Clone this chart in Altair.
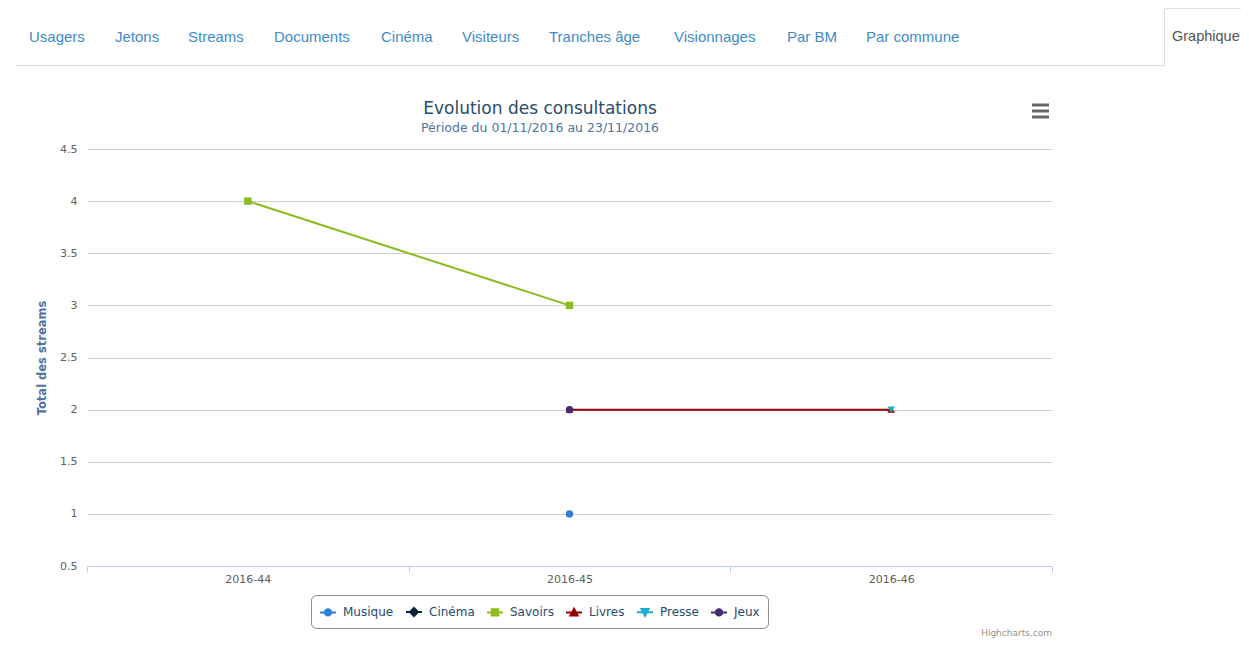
import altair as alt
import pandas as pd

# ---------------- data ----------------
weeks = ["2016-44", "2016-45", "2016-46"]
series = ["Musique", "Cinéma", "Savoirs", "Livres", "Presse", "Jeux"]
colors = ["#2f7ed8", "#0d233a", "#8bbc21", "#910000", "#1aadce", "#492970"]
marker_shapes = ["circle", "diamond", "square", "triangle-up", "triangle-down", "circle"]

musique = [None, 1, None]
cinema = [None, 2, None]
savoirs = [4, 3, None]
livres = [None, 2, 2]
presse = [None, None, 2]
jeux = [None, 2, None]

y_ticks = [0.5, 1, 1.5, 2, 2.5, 3, 3.5, 4, 4.5]
nav_labels = ["Usagers", "Jetons", "Streams", "Documents", "Cinéma", "Visiteurs",
              "Tranches âge", "Visionnages", "Par BM", "Par commune"]
active_tab = "Graphique"
title_text = "Evolution des consultations"
subtitle_text = "Période du 01/11/2016 au 23/11/2016"
y_title = "Total des streams"
credit_text = "Highcharts.com"

values = [musique, cinema, savoirs, livres, presse, jeux]
rows = []
for s, vals in zip(series, values):
    for w, v in zip(weeks, vals):
        if v is not None:
            rows.append({"series": s, "week": w, "value": v})
df = pd.DataFrame(rows)
legend_df = pd.DataFrame({"series": series, "week": [weeks[1]] * len(series),
                          "value": [2] * len(series)})

# legend symbols: a short line with the marker on it
legend_paths = [
    "M-1,0L1,0M0.4,0A0.4,0.4,0,1,1,-0.4,0A0.4,0.4,0,1,1,0.4,0Z",
    "M-1,0L1,0M0,-0.5L0.5,0L0,0.5L-0.5,0Z",
    "M-1,0L1,0M-0.4,-0.4L0.4,-0.4L0.4,0.4L-0.4,0.4Z",
    "M-1,0L1,0M0,-0.45L0.45,0.4L-0.45,0.4Z",
    "M-1,0L1,0M0,0.45L0.45,-0.4L-0.45,-0.4Z",
    "M-1,0L1,0M0.4,0A0.4,0.4,0,1,1,-0.4,0A0.4,0.4,0,1,1,0.4,0Z",
]

FONT = "DejaVu Sans"
W, H = 965, 417

x_enc = alt.X("week:N", sort=weeks, bandPosition=0.5,
              scale=alt.Scale(type="band", domain=weeks, paddingInner=0, paddingOuter=0),
              axis=alt.Axis(title=None, tickBand="extent", grid=False, labelAngle=0,
                            domainColor="#C0D0E0", tickColor="#C0D0E0", tickSize=6,
                            labelPadding=1, labelColor="#606060", labelFont=FONT,
                            labelFontSize=11))
y_enc = alt.Y("value:Q", scale=alt.Scale(domain=[0.5, 4.5], nice=False, zero=False),
              axis=alt.Axis(values=y_ticks, format="~g", title=y_title, grid=True,
                            gridColor="#d0d0d0", domain=False, ticks=False,
                            labelPadding=10, labelColor="#606060", labelFont=FONT,
                            labelFontSize=11, titleFont=FONT, titleFontSize=11.5,
                            titleFontWeight="bold", titleColor="#4d759e",
                            titlePadding=12))

leg = alt.Legend(title=None, orient="none", legendX=224, legendY=446,
                 direction="horizontal", strokeColor="#909090", cornerRadius=5,
                 padding=8, fillColor="white", labelFont=FONT, labelFontSize=12,
                 labelColor="#274b6d", symbolSize=256, symbolStrokeWidth=2,
                 symbolOpacity=1, columnPadding=8, labelOffset=6)

color_enc = alt.Color("series:N", scale=alt.Scale(domain=series, range=colors), legend=leg)

lines = alt.Chart(df).mark_line(strokeWidth=2).encode(
    x=x_enc, y=y_enc, color=color_enc, detail="series:N")

marker_layers = []
for s, shp in zip(series, marker_shapes):
    marker_layers.append(
        alt.Chart(df[df["series"] == s]).mark_point(
            shape=shp, filled=True, size=55, opacity=1).encode(
            x=x_enc, y=y_enc, color=color_enc))

legend_layer = alt.Chart(legend_df).mark_point(filled=True, opacity=0).encode(
    x=x_enc, y=y_enc, color=color_enc,
    stroke=alt.Stroke("series:N", scale=alt.Scale(domain=series, range=colors), legend=leg),
    shape=alt.Shape("series:N", scale=alt.Scale(domain=series, range=legend_paths), legend=leg))

dummy = pd.DataFrame({"a": [0]})


def text_at(text, x, y, size, color, font=FONT, align="left", weight="normal"):
    return alt.Chart(dummy).mark_text(
        text=text, align=align, baseline="middle", font=font, fontSize=size,
        color=color, fontWeight=weight).encode(x=alt.value(x), y=alt.value(y))


def rule_at(x, x2, y, y2, color, width=1):
    return alt.Chart(dummy).mark_rule(color=color, strokeWidth=width).encode(
        x=alt.value(x), x2=alt.value(x2), y=alt.value(y), y2=alt.value(y2))


OX, OY = 87, 149  # page position of plot origin
nav_x = [29, 115, 188, 274, 381, 462, 549, 674, 787, 866]
deco = []
for lab, px in zip(nav_labels, nav_x):
    deco.append(text_at(lab, px - OX, 37 - OY, 15, "#428bca", font="Liberation Sans"))
deco.append(text_at(active_tab, 1172 - OX, 37 - OY, 14.5, "#555555", font="Liberation Sans"))
deco.append(rule_at(16 - OX, 1164 - OX, 65.5 - OY, 65.5 - OY, "#dddddd"))
deco.append(rule_at(1164.5 - OX, 1164.5 - OX, 9 - OY, 65.5 - OY, "#dddddd"))
deco.append(rule_at(1164.5 - OX, 1260 - OX, 8.5 - OY, 8.5 - OY, "#dddddd"))
deco.append(text_at(title_text, 540 - OX, 109 - OY, 17, "#274b6d", align="center"))
deco.append(text_at(subtitle_text, 540 - OX, 128 - OY, 12.5, "#4d759e", align="center"))
for yy in [105, 111, 117]:
    deco.append(rule_at(1032 - OX, 1049 - OX, yy - OY, yy - OY, "#666666", 3))
deco.append(text_at(credit_text, 1052 - OX, 633 - OY, 9, "#909090", align="right"))

chart = alt.layer(lines, *marker_layers, legend_layer, *deco).properties(
    width=W, height=H,
    padding={"left": 79, "top": 141, "right": 189, "bottom": 72},
    autosize=alt.AutoSizeParams(type="none"),
).configure(background="white").configure_view(stroke=None)

chart.save("out.html", embed_options={"renderer": "svg", "actions": False})
